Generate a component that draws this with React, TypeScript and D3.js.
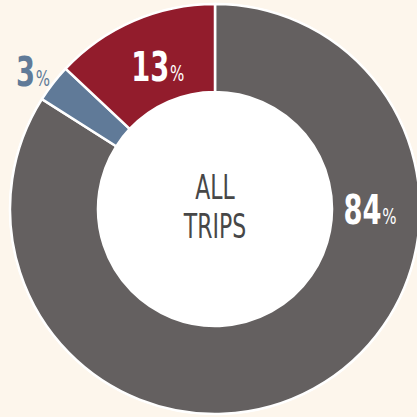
import React from "react";
import * as d3 from "d3";

const categories = ["Car", "Transit", "Walk/Bike"];
const values = [84, 3, 13];
const colors = ["#646060", "#607a98", "#921c2c"];
const labelColors = ["#ffffff", "#607a98", "#ffffff"];
// label placement in polar terms (degrees clockwise from top, radius px)
const labelAngles = [90.5, -53, -22];
const labelRadii = [155, 228, 153];
const centerLines = ["ALL", "TRIPS"];

const W = 417;
const H = 417;
const cx = 215;
const cy = 209;
const outerR = 205;
const innerR = 117;
const FONT = "'DejaVu Sans Condensed', 'Liberation Sans Narrow', 'Open Sans', sans-serif";

export default function App() {
  const pie = d3.pie<number>().sort(null).value((d) => d)(values);
  const arc = d3.arc<d3.PieArcDatum<number>>().innerRadius(innerR).outerRadius(outerR);
  return (
    <svg
      width={W}
      height={H}
      style={{ position: "absolute", left: 0, top: 0, background: "#fdf6ec" }}
    >
      <rect width={W} height={H} fill="#fdf6ec" />
      <g transform={`translate(${cx},${cy})`}>
        <circle r={outerR + 1} fill="#ffffff" />
        {pie.map((p, i) => (
          <path key={categories[i]} d={arc(p) || ""} fill={colors[i]} stroke="#ffffff" strokeWidth={2.5} />
        ))}
        <circle r={innerR} fill="#ffffff" />
        {centerLines.map((t, i) => (
          <g key={t} transform={`translate(0,${i === 0 ? -10 : 29}) scale(0.74,1)`}>
            <text
              x={0}
              y={0}
              textAnchor="middle"
              fontFamily={FONT}
              fontSize={33}
              fill="#474747"
              style={{ fontStretch: "condensed" }}
            >
              {t}
            </text>
          </g>
        ))}
        {values.map((v, i) => {
          const a = (labelAngles[i] * Math.PI) / 180;
          const x = Math.sin(a) * labelRadii[i];
          const y = -Math.cos(a) * labelRadii[i];
          return (
            <g key={categories[i]} transform={`translate(${x},${y + 14}) scale(0.76,1)`}>
              <text
                x={0}
                y={0}
                textAnchor="middle"
                fontFamily={FONT}
                fill={labelColors[i]}
                style={{ fontStretch: "condensed" }}
              >
                <tspan fontSize={40} fontWeight="bold">{v}</tspan>
                <tspan fontSize={22} dx={1}>%</tspan>
              </text>
            </g>
          );
        })}
      </g>
    </svg>
  );
}
